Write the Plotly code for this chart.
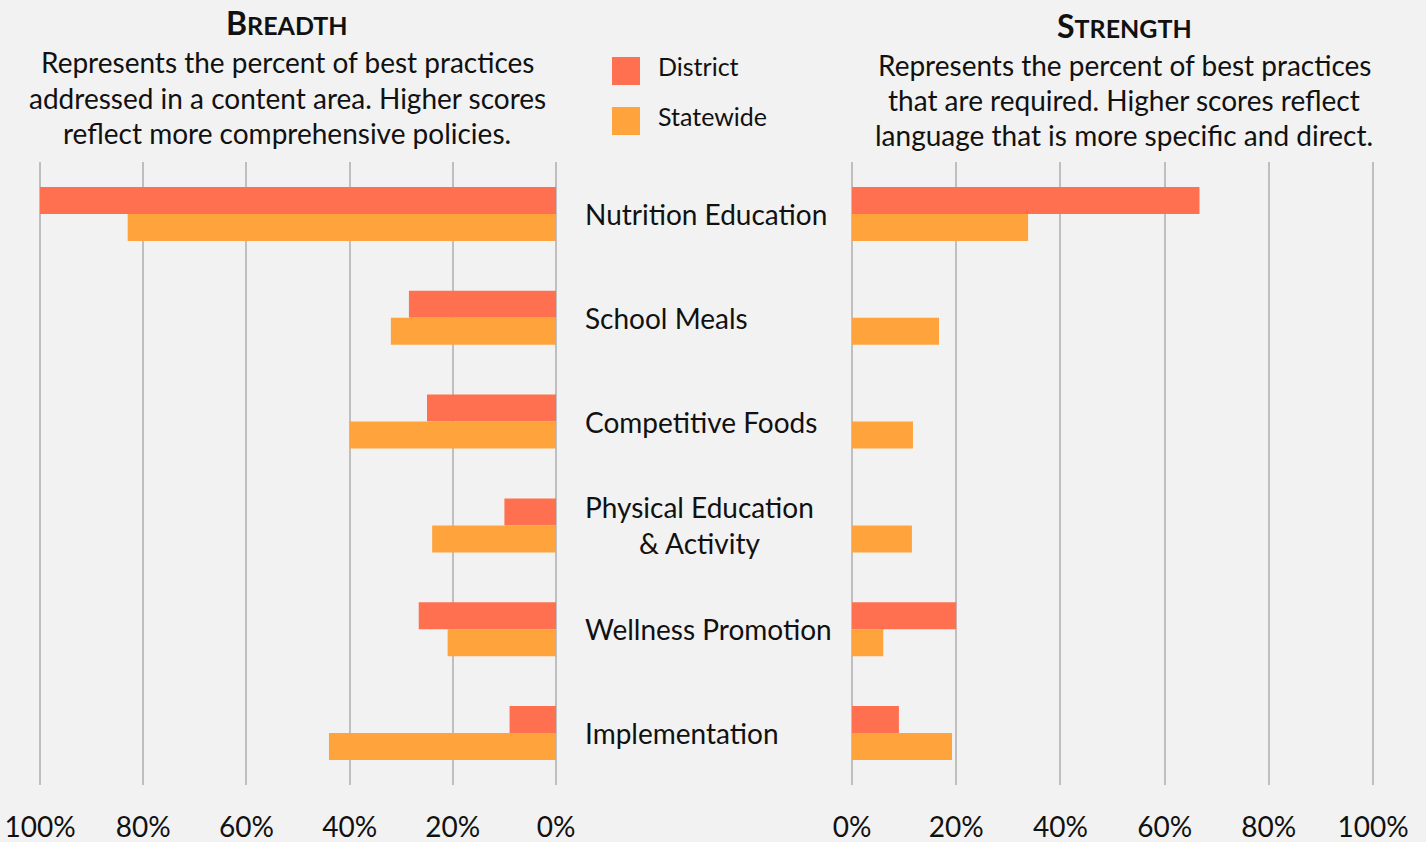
import plotly.graph_objects as go

categories = ["Nutrition Education", "School Meals", "Competitive Foods",
              "Physical Education<br>& Activity", "Wellness Promotion", "Implementation"]
cat_keys = ["Nutrition Education", "School Meals", "Competitive Foods",
            "Physical Education & Activity", "Wellness Promotion", "Implementation"]

breadth_district = [100, 28.5, 25, 10, 26.6, 9]
breadth_statewide = [83, 32, 40, 24, 21, 44]
strength_district = [66.7, 0, 0, 0, 20, 9]
strength_statewide = [33.8, 16.7, 11.7, 11.5, 6, 19.2]

tick_vals = [0, 20, 40, 60, 80, 100]
tick_text = ["0%", "20%", "40%", "60%", "80%", "100%"]

breadth_lines = ["Represents the percent of best practices",
                 "addressed in a content area. Higher scores",
                 "reflect more comprehensive policies."]
strength_lines = ["Represents the percent of best practices",
                  "that are required. Higher scores reflect",
                  "language that is more specific and direct."]

C_DIST = "#FF7050"
C_STATE = "#FFA33D"
BG = "#F2F2F2"
GRID = "#BFBFBF"
TXT = "#111111"
FONT = "Lato"
FS = 28

W, H = 1426, 842
def px(x): return x / W
def py(y): return 1 - y / H

fig = go.Figure()
for name, vals, col, xa in [
    ("District", breadth_district, C_DIST, "x"),
    ("Statewide", breadth_statewide, C_STATE, "x"),
    ("District", strength_district, C_DIST, "x2"),
    ("Statewide", strength_statewide, C_STATE, "x2"),
]:
    fig.add_trace(go.Bar(
        y=cat_keys, x=vals, orientation="h", name=name,
        marker=dict(color=col, line=dict(width=0)),
        xaxis=xa, yaxis="y", showlegend=False,
    ))

axis_common = dict(
    tickmode="array", tickvals=tick_vals, ticktext=tick_text,
    showgrid=True, gridcolor=GRID, gridwidth=2, zeroline=False,
    showline=False, ticks="", ticklabelstandoff=23, automargin=False,
    tickfont=dict(family=FONT, size=FS, color=TXT), fixedrange=True,
)

PAD = 0.5  # small range padding so edge gridlines are drawn
fig.update_layout(
    width=W, height=H,
    margin=dict(l=0, r=0, t=0, b=0, autoexpand=False),
    paper_bgcolor=BG, plot_bgcolor=BG,
    barmode="group", bargap=0.48, bargroupgap=0,
    showlegend=False,
    font=dict(family=FONT, color=TXT),
    xaxis=dict(domain=[px(40 - PAD * 5.16), px(556 + PAD * 5.16)], range=[100 + PAD, -PAD],
               anchor="y", **axis_common),
    xaxis2=dict(domain=[px(852 - PAD * 5.21), px(1373 + PAD * 5.21)], range=[-PAD, 100 + PAD],
                anchor="y", **axis_common),
    yaxis=dict(domain=[py(785), py(162)], autorange="reversed", showticklabels=False,
               showgrid=False, zeroline=False, showline=False, ticks="", fixedrange=True,
               automargin=False),
)

# category labels
for lab, key in zip(categories, cat_keys):
    fig.add_annotation(x=px(583), xref="paper", y=key, yref="y",
                       text=lab, showarrow=False, xanchor="left", yanchor="middle",
                       align="center", font=dict(family=FONT, size=FS, color=TXT))

# titles
def smallcaps(word):
    return "<b>" + word[0] + "<span style='font-size:25px'>" + word[1:] + "</span></b>"

fig.add_annotation(x=px(287), y=py(23), xref="paper", yref="paper", text=smallcaps("BREADTH"),
                   showarrow=False, xanchor="center", yanchor="middle",
                   font=dict(family=FONT, size=32, color=TXT))
for line, yc in zip(breadth_lines, [62, 98, 133]):
    fig.add_annotation(x=px(287), y=py(yc), xref="paper", yref="paper", text=line,
                       showarrow=False, xanchor="center", yanchor="middle",
                       font=dict(family=FONT, size=FS, color=TXT))
fig.add_annotation(x=px(1124), y=py(26), xref="paper", yref="paper", text=smallcaps("STRENGTH"),
                   showarrow=False, xanchor="center", yanchor="middle",
                   font=dict(family=FONT, size=32, color=TXT))
for line, yc in zip(strength_lines, [65, 100, 135]):
    fig.add_annotation(x=px(1124), y=py(yc), xref="paper", yref="paper", text=line,
                       showarrow=False, xanchor="center", yanchor="middle",
                       font=dict(family=FONT, size=FS, color=TXT))

# legend
for name, col, yc in [("District", C_DIST, 71), ("Statewide", C_STATE, 121)]:
    fig.add_shape(type="rect", xref="paper", yref="paper",
                  x0=px(612), x1=px(640), y0=py(yc - 14), y1=py(yc + 14),
                  fillcolor=col, line=dict(width=0))
    fig.add_annotation(x=px(656), y=py(yc - 5), xref="paper", yref="paper", text=name,
                       showarrow=False, xanchor="left", yanchor="middle",
                       font=dict(family=FONT, size=25, color=TXT))

fig.write_html("out.html", config={"displayModeBar": False},
               post_script="document.body.style.margin='0';")
